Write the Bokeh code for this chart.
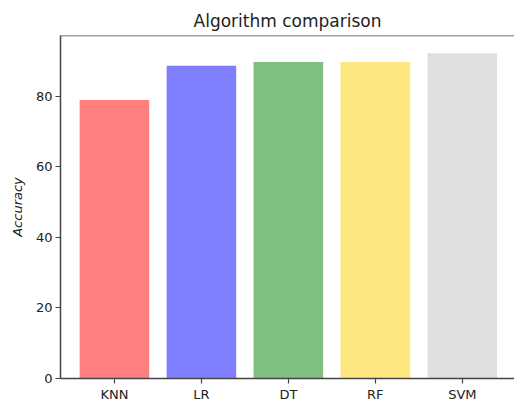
import numpy as np
from bokeh.plotting import figure
from bokeh.models import Range1d, FixedTicker, Span, ColumnDataSource
from bokeh.embed import file_html
from bokeh.resources import INLINE

algorithms = ["KNN", "LR", "DT", "RF", "SVM"]
accuracy = [78.9, 88.6, 89.7, 89.7, 92.2]
bar_colors = ["#FF7F7F", "#7F7FFF", "#7FBF7F", "#FFE77F", "#DFDFDF"]
y_ticks = [0, 20, 40, 60, 80]

x_pos = list(range(len(algorithms)))
src = ColumnDataSource(dict(x=x_pos, top=accuracy, color=bar_colors))

Y_END = 97.2
p = figure(width=514, height=404, output_backend="svg", toolbar_location=None,
           x_range=Range1d(-0.62, 4.60), y_range=Range1d(0, Y_END),
           min_border_left=60, min_border_right=0, min_border_top=35, min_border_bottom=20)

p.vbar(x="x", top="top", width=0.8, fill_color="color", line_color=None, source=src)

p.title.text = "Algorithm comparison"
p.title.align = "center"
p.title.text_font = "DejaVu Sans"
p.title.text_font_style = "normal"
p.title.text_font_size = "17px"
p.title.text_color = "#222222"

p.outline_line_color = None
p.xgrid.grid_line_color = None
p.ygrid.grid_line_color = None
p.background_fill_color = "white"
p.border_fill_color = "white"

for ax in (p.xaxis[0], p.yaxis[0]):
    ax.axis_line_color = "#444444"
    ax.axis_line_width = 1.5
    ax.major_tick_line_color = "#444444"
    ax.major_tick_line_width = 1.2
    ax.major_tick_out = 5
    ax.major_tick_in = 0
    ax.minor_tick_line_color = None
    ax.major_label_text_font = "DejaVu Sans"
    ax.major_label_text_font_size = "13px"
    ax.major_label_text_color = "#222222"
    ax.major_label_standoff = 3

p.xaxis.ticker = FixedTicker(ticks=x_pos)
p.xaxis.major_label_overrides = {i: a for i, a in zip(x_pos, algorithms)}
p.yaxis.ticker = FixedTicker(ticks=y_ticks)
p.yaxis.axis_label = "Accuracy"
p.yaxis.axis_label_text_font = "DejaVu Sans"
p.yaxis.axis_label_text_font_style = "italic"
p.yaxis.axis_label_text_font_size = "13px"
p.yaxis.axis_label_text_color = "#222222"
p.yaxis.axis_label_standoff = 8

p.add_layout(Span(location=Y_END, dimension="width", line_color="#444444", line_width=1.5))

open("out.html", "w").write(file_html(p, INLINE))
